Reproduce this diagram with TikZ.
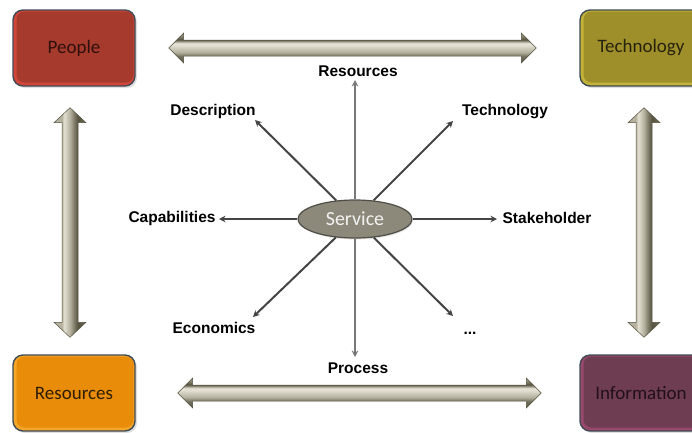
\documentclass[tikz,border=0pt]{standalone}
\usepackage{fontspec}
\newfontfamily\boxfont{Carlito}
\newfontfamily\labfont{Liberation Sans}
\usetikzlibrary{shapes.geometric,arrows.meta,calc,shadows}
\definecolor{ppl}{HTML}{A63A2C}
\definecolor{pplL}{HTML}{D2463A}
\definecolor{pplT}{HTML}{2E100C}
\definecolor{tec}{HTML}{9E8F2B}
\definecolor{tecL}{HTML}{C2B238}
\definecolor{tecT}{HTML}{26220C}
\definecolor{rsc}{HTML}{E88C0A}
\definecolor{rscL}{HTML}{F4A628}
\definecolor{rscT}{HTML}{2E1E00}
\definecolor{inf}{HTML}{6E3D52}
\definecolor{infL}{HTML}{98486A}
\definecolor{infT}{HTML}{22101A}
\definecolor{bord}{HTML}{3F4B55}
\definecolor{flt}{HTML}{E3E0D3}
\definecolor{fmd}{HTML}{B5B19E}
\definecolor{fdk}{HTML}{74705E}
\definecolor{fdkk}{HTML}{55523F}
\definecolor{srv}{HTML}{8C897B}
\definecolor{srvB}{HTML}{4F4E47}
\definecolor{spk}{HTML}{454545}
\definecolor{spkV}{HTML}{787878}
\pgfdeclareverticalshading{fatHsh}{100bp}{color(0bp)=(fdkk); color(25bp)=(fdkk); color(36bp)=(fdk); color(43bp)=(fmd); color(55bp)=(flt); color(58bp)=(flt); color(64bp)=(fdkk); color(75bp)=(fmd); color(100bp)=(fmd)}
\pgfdeclarehorizontalshading{fatVsh}{100bp}{color(0bp)=(fmd); color(25bp)=(fmd); color(37bp)=(fmd); color(41bp)=(flt); color(50bp)=(fmd); color(58bp)=(fdk); color(63bp)=(fdkk); color(75bp)=(fdk); color(100bp)=(fdk)}
\newcommand\fatarrowH[2]{%
  \path[fatH] let \p1=(#1), \p2=(#2) in
    (\x1,\y1) -- (\x1+15pt,\y1+15pt) -- (\x1+15pt,\y1+8pt) -- (\x2-15pt,\y1+8pt)
    -- (\x2-15pt,\y1+15pt) -- (\x2,\y1) -- (\x2-15pt,\y1-15pt) -- (\x2-15pt,\y1-8pt)
    -- (\x1+15pt,\y1-8pt) -- (\x1+15pt,\y1-15pt) -- cycle;}
\newcommand\fatarrowV[2]{%
  \path[fatV] let \p1=(#1), \p2=(#2) in
    (\x1,\y1) -- (\x1+16pt,\y1-15pt) -- (\x1+8pt,\y1-15pt) -- (\x1+8pt,\y2+15pt)
    -- (\x1+16pt,\y2+15pt) -- (\x1,\y2) -- (\x1-16pt,\y2+15pt) -- (\x1-8pt,\y2+15pt)
    -- (\x1-8pt,\y1-15pt) -- (\x1-16pt,\y1-15pt) -- cycle;}
\begin{document}
\begin{tikzpicture}[x=1pt,y=-1pt,
  box/.style={rounded corners=10pt, minimum width=122pt, minimum height=76pt,
    draw=bord, line width=1.4pt, inner sep=0pt,
    font=\boxfont\fontsize{19}{22}\selectfont,
    drop shadow={opacity=0.25, shadow xshift=2pt, shadow yshift=-2pt}},
  boxc/.style 2 args={fill=#1, path picture={\fill[#2, rounded corners=8pt]
    ($(path picture bounding box.south west)+(3.5pt,3.5pt)$) rectangle
    ($(path picture bounding box.north east)+(-1.5pt,-1.5pt)$);}},
  fatH/.style={shade, shading=fatHsh, draw=fdkk, line width=0.5pt},
  fatV/.style={shade, shading=fatVsh, draw=fdkk, line width=0.5pt},
  service/.style={ellipse, minimum width=114pt, minimum height=38pt, inner sep=0pt,
    fill=srv, draw=srvB, line width=1.2pt, text=white!95!black,
    font=\boxfont\fontsize{20}{24}\selectfont,
    drop shadow={opacity=0.2, shadow xshift=1pt, shadow yshift=-1.5pt}},
  lab/.style={font=\labfont\bfseries\fontsize{15.5}{18}\selectfont, inner sep=1pt, text=black},
  spoke/.style={draw=spk, line width=2pt, -{Stealth[length=6.5pt,width=6.5pt]}},
  spokeV/.style={draw=spkV, line width=2.2pt, -{Stealth[length=6.5pt,width=6.5pt]}}
]
\useasboundingbox (0,0) rectangle (692,432);
\clip (0,0) rectangle (692,432);
\fill[white] (0,0) rectangle (692,432);

% corner boxes
\node[box, boxc={pplL}{ppl}, text=pplT] (people) at (74,48) {People};
\node[box, boxc={tecL}{tec}, text=tecT] (tech) at (641,48) {Technology};
\node[box, boxc={rscL}{rsc}, text=rscT] (res) at (74,393) {Resources};
\node[box, boxc={infL}{inf}, text=infT] (info) at (641,393) {Information};

% fat double arrows between boxes
\coordinate (hTa) at ($(people.east)+(33pt,0pt)$);
\coordinate (hTb) at ($(tech.west)+(-43pt,0pt)$);
\coordinate (hBa) at ($(res.east)+(42pt,0pt)$);
\coordinate (hBb) at ($(info.west)+(-38pt,0pt)$);
\coordinate (vLa) at ($(people.south)+(-4pt,-21pt)$);
\coordinate (vLb) at ($(res.north)+(-4pt,17pt)$);
\coordinate (vRa) at ($(tech.south)+(3pt,-21pt)$);
\coordinate (vRb) at ($(info.north)+(3pt,17pt)$);
\fatarrowH{hTa}{hTb}
\fatarrowH{hBa}{hBb}
\fatarrowV{vLa}{vLb}
\fatarrowV{vRa}{vRb}

% central service
\node[service] (service) at (355,219) {Service};

% spoke tips
\coordinate (tR) at (355,80);
\coordinate (tD) at (255,120);
\coordinate (tT) at (453,121);
\coordinate (tC) at (219,219);
\coordinate (tS) at (497,219);
\coordinate (tE) at (253,317);
\coordinate (tP) at (355,357);
\coordinate (tX) at (453,316);

\draw[spokeV] (service) -- (tR);
\draw[spoke] (service) -- (tD);
\draw[spoke] (service) -- (tT);
\draw[spoke] (service) -- (tC);
\draw[spoke] (service) -- (tS);
\draw[spoke] (service) -- (tE);
\draw[spokeV] (service) -- (tP);
\draw[spoke] (service) -- (tX);

% labels
\node[lab] (lR) at (358,71) {Resources};
\node[lab] (lD) at (213,111) {Description};
\node[lab] (lT) at (505,112) {Technology};
\node[lab] (lC) at (172,218) {Capabilities};
\node[lab] (lS) at (547,218) {Stakeholder};
\node[lab] (lE) at (214,328) {Economics};
\node[lab] (lP) at (358,368) {Process};
\node[lab] (lX) at (470,333) {...};
\end{tikzpicture}
\end{document}
